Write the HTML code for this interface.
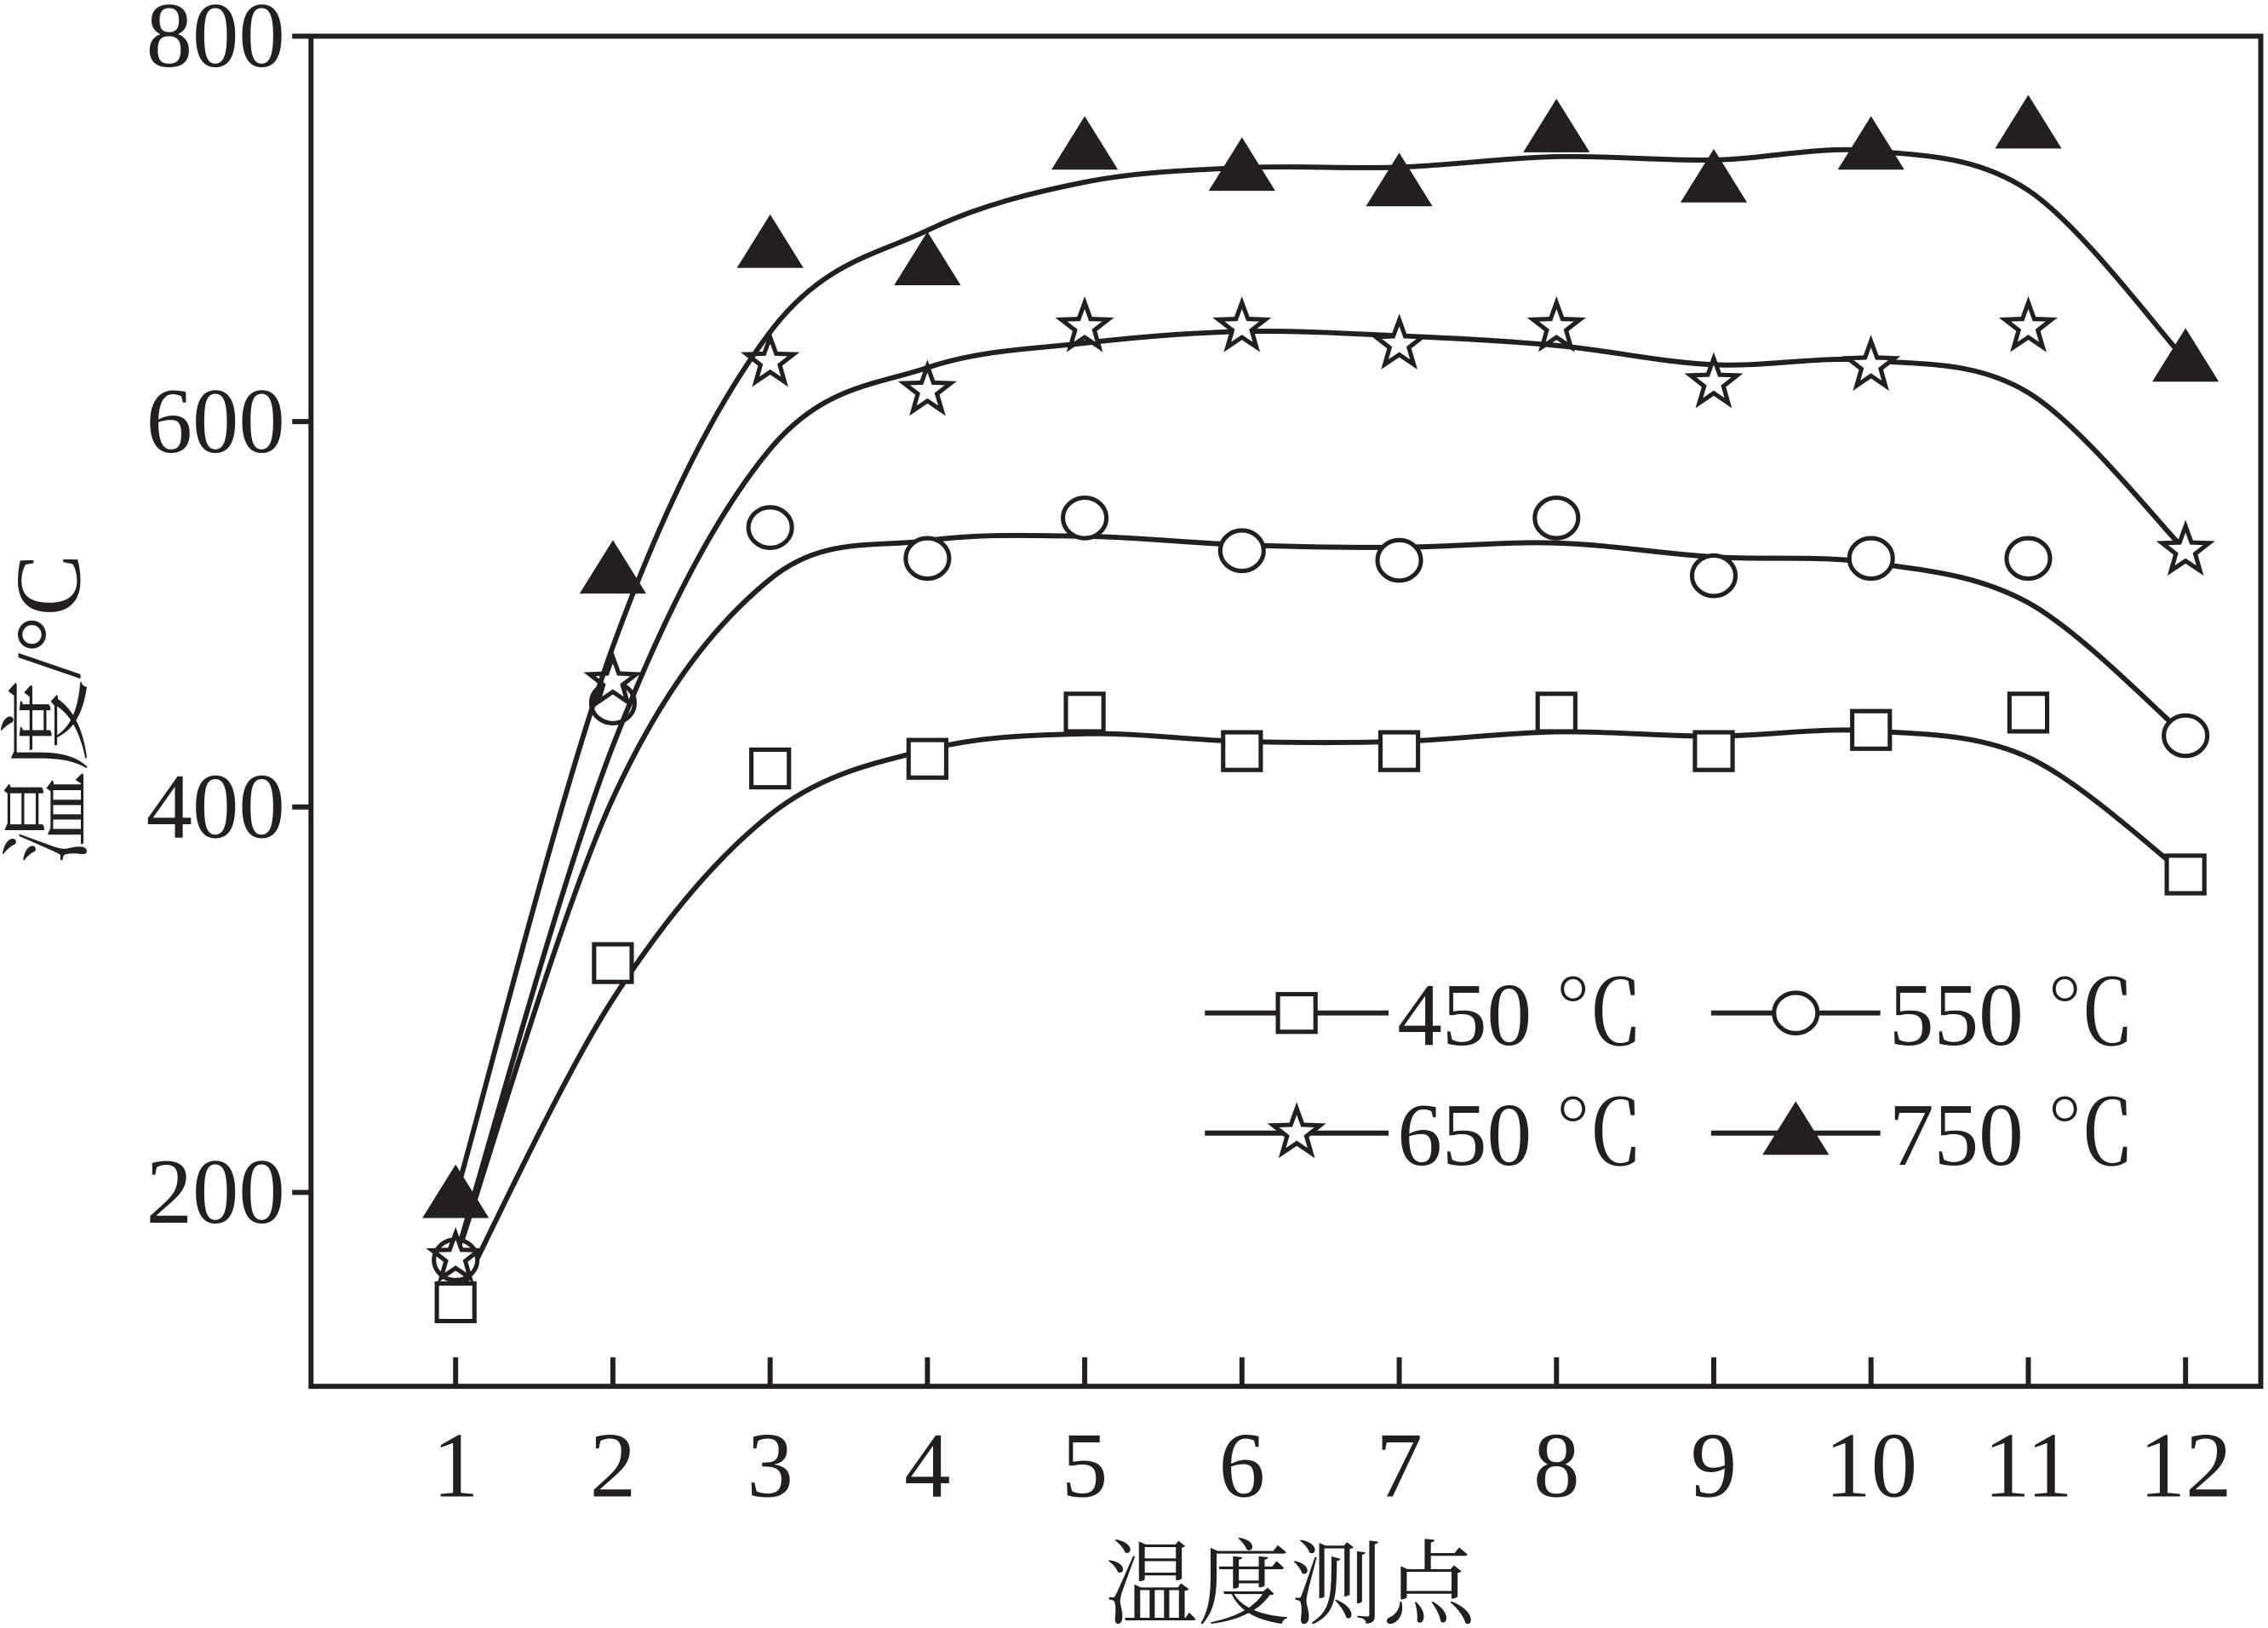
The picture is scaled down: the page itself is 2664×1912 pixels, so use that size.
<!DOCTYPE html>
<html><head><meta charset="utf-8"><style>
html,body{margin:0;padding:0;background:#fff;}
svg{display:block;}
text{font-family:"Liberation Serif","Noto Serif CJK SC",serif;fill:#231f20;}
</style></head><body>
<svg id="chart" width="2664" height="1912" viewBox="0 0 1568 1125" preserveAspectRatio="none" xmlns="http://www.w3.org/2000/svg">
<g id="axes"></g>
<g id="series"></g>
<g id="legend"></g>
<text x="892" y="1117" font-size="64" text-anchor="middle">温度测点</text>
<text transform="translate(55,490) rotate(-90)" font-size="64" text-anchor="middle">温度/°C</text>
</svg>
<script>
const categories=[1,2,3,4,5,6,7,8,9,10,11,12];
const yTicks=[200,400,600,800];
const seriesNames=["450 ℃","550 ℃","650 ℃","750 ℃"];
const s450=[143,319,420,425,449,429,429,449,429,440,449,365];
const s550=[165,454,545,529,550,533,528,550,520,529,529,437];
const s650=[166,465,631,616,649,649,640,649,620,629,649,533];
const s750=[198,522,691,682,742,731,723,751,725,742,753,632];
const markers=["square","circle","star","triangle"];

const NS="http://www.w3.org/2000/svg";
const L=215,R=1563,T=25,B=958;
const xs=c=>315+(c-1)*(1511-315)/11;
const ys=v=>25+(800-v)*(824-25)/600;
function mk(tag,attrs,parent){const e=document.createElementNS(NS,tag);for(const k in attrs)e.setAttribute(k,attrs[k]);parent.appendChild(e);return e;}
const axes=document.getElementById('axes');
const frame=mk('rect',{x:L,y:T,width:R-L,height:B-T,fill:'none',stroke:'#231f20','stroke-width':3.5},axes);


yTicks.forEach(v=>{
  const t=mk('line',{x1:L-13,x2:L,y1:ys(v),y2:ys(v),stroke:'#231f20','stroke-width':3.5},axes);
  
  
  const tx=mk('text',{x:L-18,y:ys(v)+21,'font-size':64,'text-anchor':'end'},axes);
  tx.textContent=v;
  
  
});
categories.forEach(c=>{
  const t=mk('line',{x1:xs(c),x2:xs(c),y1:B-20,y2:B,stroke:'#231f20','stroke-width':3.5},axes);
  
  
  const tx=mk('text',{x:xs(c),y:1034,'font-size':64,'text-anchor':'middle'},axes);
  tx.textContent=c;
  
  
});
function marker(type,x,y,parent){
  let e;
  if(type==="square")e=mk('rect',{x:x-13,y:y-13,width:26,height:26,fill:'#fff',stroke:'#231f20','stroke-width':3},parent);
  else if(type==="circle")e=mk('ellipse',{cx:x,cy:y,rx:15,ry:14,fill:'#fff',stroke:'#231f20','stroke-width':3},parent);
  else if(type==="triangle")e=mk('polygon',{points:`${x},${y-22} ${x-23},${y+15} ${x+23},${y+15}`,fill:'#231f20'},parent);
  else{let p=[];for(let i=0;i<10;i++){const r=i%2?7:17,a=-Math.PI/2+i*Math.PI/5;p.push((x+r*Math.cos(a)).toFixed(1)+','+(y+r*Math.sin(a)).toFixed(1));}
    e=mk('polygon',{points:p.join(' '),fill:'#fff',stroke:'#231f20','stroke-width':3},parent);}
  return e;
}
function smoothPath(vals){
  const sm=vals.map((v,i)=>(i===0||i===vals.length-1)?v:0.25*vals[i-1]+0.5*v+0.25*vals[i+1]);
  const pts=sm.map((v,i)=>[xs(categories[i]),ys(v)]);
  let d=`M${pts[0][0]},${pts[0][1]}`;
  for(let i=0;i<pts.length-1;i++){
    const p0=pts[Math.max(0,i-1)],p1=pts[i],p2=pts[i+1],p3=pts[Math.min(pts.length-1,i+2)];
    const c1=[p1[0]+(p2[0]-p0[0])/6,p1[1]+(p2[1]-p0[1])/6],c2=[p2[0]-(p3[0]-p1[0])/6,p2[1]-(p3[1]-p1[1])/6];
    d+=` C${c1[0]},${c1[1]} ${c2[0]},${c2[1]} ${p2[0]},${p2[1]}`;
  }
  return d;
}
const sg=document.getElementById('series');
[s450,s550,s650,s750].forEach((vals,k)=>{
  const p=mk('path',{d:smoothPath(vals),fill:'none',stroke:'#231f20','stroke-width':3.5},sg);
  
  
  vals.forEach((v,i)=>{
    const m=marker(markers[k],xs(categories[i]),ys(v),sg);
    
    
  });
});
const lg=document.getElementById('legend');
const lpos=[[833,960,700],[1183,1300,700],[833,960,783],[1183,1300,783]];
lpos.forEach((p,k)=>{
  const l=mk('line',{x1:p[0],x2:p[1],y1:p[2],y2:p[2],stroke:'#231f20','stroke-width':3.5},lg);
  
  
  const m=marker(markers[k],(p[0]+p[1])/2,p[2],lg);
  
  
  const t=mk('text',{x:p[1]+6,y:p[2]+22,'font-size':62},lg);
  t.textContent=seriesNames[k];
  
  
});
</script>
</body></html>
